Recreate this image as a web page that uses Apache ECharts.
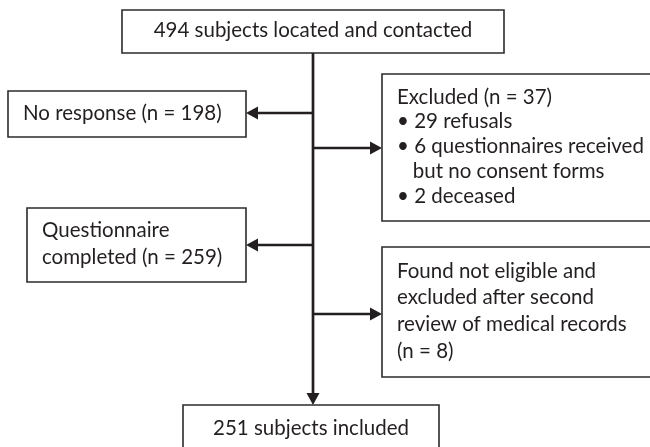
<!DOCTYPE html>
<html>
<head>
<meta charset="utf-8">
<script src="https://cdn.jsdelivr.net/npm/echarts@6/dist/echarts.min.js"></script>
<style>
  html, body { margin: 0; padding: 0; background: #fff; }
  #chart { width: 650px; height: 447px; }
</style>
</head>
<body>
<div id="chart"></div>
<script>
// counts
const contacted = 494;
const noResponse = 198;
const excluded = 37;
const excludedReasons = ['29 refusals', '6 questionnaires received', 'but no consent forms', '2 deceased'];
const completed = 259;
const notEligible = 8;
const included = 251;

// box texts, one entry per line
const boxTexts = [
  [contacted + ' subjects located and contacted'],
  ['No response (n = ' + noResponse + ')'],
  ['Excluded (n = ' + excluded + ')', '\u2022 ' + excludedReasons[0], '\u2022 ' + excludedReasons[1], '   ' + excludedReasons[2], '\u2022 ' + excludedReasons[3]],
  ['Questionnaire', 'completed (n = ' + completed + ')'],
  ['Found not eligible and', 'excluded after second', 'review of medical records', '(n = ' + notEligible + ')'],
  [included + ' subjects included']
];

// layout: [x0, y0, x1, y1, align, line height]  (page units, y down)
const boxLayout = [
  [122, 10, 504, 53, 'center', 24],
  [8, 91, 246, 137, 'left', 24],
  [382, 74, 653, 221, 'left', 24.7],
  [27, 208, 246, 282, 'left', 26.5],
  [382, 247, 653, 377, 'left', 26.7],
  [183, 405, 439, 451, 'center', 24]
];
const trunkX = 313;
// branches: [y, target box index]
const branches = [[113, 1], [148, 2], [245, 3], [314, 4]];

const ink = '#231f20';
const font = '20.5px Lato';

var chart = echarts.init(document.getElementById('chart'));

const boxData = boxLayout.map((b, i) => [b[0], b[1], b[2], b[3], i]);

// connectors: [x0, y0, x1, y1]
const linkData = [[trunkX, boxLayout[0][3], trunkX, boxLayout[5][1]]].concat(
  branches.map(br => {
    const b = boxLayout[br[1]];
    const tx = b[0] > trunkX ? b[0] : b[2];
    return [trunkX, br[0], tx, br[0]];
  })
);

function renderBox(params, api) {
  const p0 = api.coord([api.value(0), api.value(1)]);
  const p1 = api.coord([api.value(2), api.value(3)]);
  const idx = api.value(4);
  const lines = boxTexts[idx];
  const align = boxLayout[idx][4];
  const lineH = boxLayout[idx][5];
  const children = [{
    type: 'rect',
    shape: { x: p0[0], y: p0[1], width: p1[0] - p0[0], height: p1[1] - p0[1] },
    style: { fill: '#fff', stroke: '#2b2b2b', lineWidth: 1.6 }
  }];
  const cy = idx === 5 ? p0[1] + 23 : (p0[1] + p1[1]) / 2 - 1;
  const startY = cy - (lines.length - 1) * lineH / 2;
  lines.forEach((t, k) => {
    children.push({
      type: 'text',
      style: {
        text: t,
        x: align === 'center' ? (p0[0] + p1[0]) / 2 : p0[0] + 15,
        y: startY + k * lineH,
        font: font,
        fill: ink,
        align: align,
        verticalAlign: 'middle'
      }
    });
  });
  return { type: 'group', children: children };
}

function renderLink(params, api) {
  const a = api.coord([api.value(0), api.value(1)]);
  const b = api.coord([api.value(2), api.value(3)]);
  const dx = b[0] - a[0], dy = b[1] - a[1];
  const len = Math.sqrt(dx * dx + dy * dy);
  const ux = dx / len, uy = dy / len;
  const headL = 12, headW = 6.5;
  const base = [b[0] - ux * headL, b[1] - uy * headL];
  return {
    type: 'group',
    children: [
      { type: 'line', shape: { x1: a[0], y1: a[1], x2: base[0], y2: base[1] }, style: { stroke: ink, lineWidth: 2.7 } },
      { type: 'polygon', shape: { points: [[b[0], b[1]], [base[0] - uy * headW, base[1] + ux * headW], [base[0] + uy * headW, base[1] - ux * headW]] }, style: { fill: ink } }
    ]
  };
}

var option = {
  animation: false,
  grid: { left: 0, right: 0, top: 0, bottom: 0 },
  xAxis: { type: 'value', min: 0, max: 650, show: false },
  yAxis: { type: 'value', min: 0, max: 447, inverse: true, show: false },
  series: [
    { type: 'custom', renderItem: renderLink, data: linkData, silent: true, clip: false },
    { type: 'custom', renderItem: renderBox, data: boxData, silent: true, clip: false }
  ]
};

chart.setOption(option);
</script>
</body>
</html>
